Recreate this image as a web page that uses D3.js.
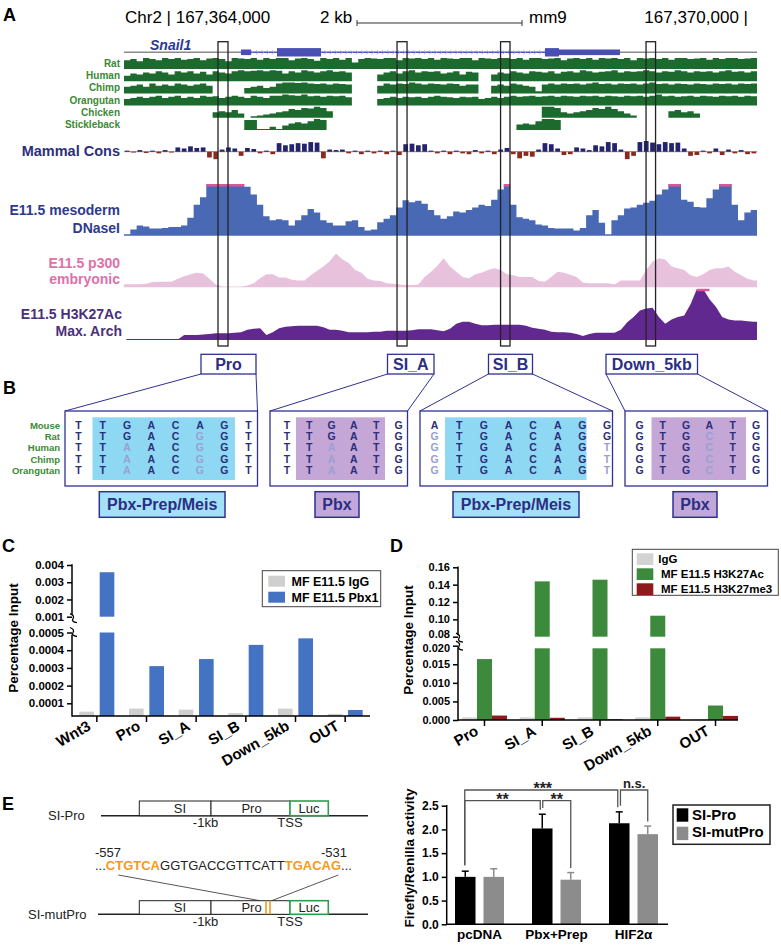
<!DOCTYPE html>
<html><head><meta charset="utf-8">
<script src="https://cdn.jsdelivr.net/npm/d3@7"></script>
<style>
body{margin:0;background:#fff;}
svg{display:block;font-family:"Liberation Sans",Arial,Helvetica,sans-serif;}
</style></head><body>
<svg id="fig" width="781" height="946"></svg>
<script>
// ================= DATA =================
// Panel A : genome browser region (mm9, chr2)
const regionStart = 167363490, regionEnd = 167370130;
const binSize = 66.4; // 100 bins
const geneName = "Snail1";
const geneStart = 167364717, geneEnd = 167368693;
const geneBlocks = [
  {start:167364717, end:167364822, kind:"utr"},
  {start:167365095, end:167365557, kind:"cds"},
  {start:167367906, end:167368053, kind:"cds"},
  {start:167368053, end:167368693, kind:"utr"}
];
const siteNames = ["Pro","SI_A","SI_B","Down_5kb"];
const siteStarts = [167364476, 167366354, 167367440, 167368966];
const siteEnds   = [167364581, 167366459, 167367539, 167369066];

const speciesNames = ["Rat","Human","Chimp","Orangutan","Chicken","Stickleback"];
const consRat = [0.8,0.9,0.7,1,0.9,0.8,1,0.9,1,0.85, 0.9,1,0.8,0.95,1,0.9,0.7,1,0.95,0.9, 1,0.85,1,0.9,1,1,0.8,0.95,1,0.9, 0.75,1,0.9,1,0.85,1,0.6,0.9,1,0.95, 0.9,1,1,0.8,1,0.95,1,0.9,1,0.85, 1,0.95,0.9,1,1,0.8,1,0.95,0.9,1, 1,0.9,1,0.85,1,1,0.9,0.95,1,0.8, 0.95,1,0.9,1,0.85,1,0.95,1,0.9,1, 0.8,1,0.95,1,0.9,1,0.85,1,1,0.9, 0.95,1,0.85,1,0.9,1,1,0.9,0.95,1];
const consHuman = [0.5,0.7,0.6,0.8,0.7,0.9,0.8,0.6,0.9,0.8, 0.9,0.7,0.85,0.6,0.9,0.8,0.7,0.9,1,0.9, 0.95,1,0.9,1,0.95,0.7,0.9,0.8,1,0.9, 0.8,0.9,1,0.85,0.9,0.8,0,0,0,0, 0.6,0.8,0.9,0.7,0.9,1,0.8,0.9,0.85,0.9, 0.7,0.8,0.9,0.6,0.85,0.8,0,0,0.6,0.8, 0.7,0.9,0.8,0.7,0.9,0.85,0.8,0.9,0.7,0.85, 0.9,0.8,1,0.9,0.8,0.85,0.9,1,0.8,0.9, 0.85,0.9,1,0.9,0.8,0.9,0.85,1,0.9,0.8, 0.9,0.85,0.9,0.8,0.9,1,0.85,0.9,0.8,0.9];
const consChimp = [0.6,0.7,0.8,0.6,0.9,0.7,0.8,0.7,0.9,0.8, 0.7,0.8,0.9,0.7,0,0,0,0,0,0.5, 0.6,0.7,0.5,0.6,0.9,1,1,0.95,1,0.9, 0.85,0.9,0.8,0.9,0.85,0.8,0,0,0,0, 0.7,0.9,0.8,0.9,0.85,1,0.9,0.8,0.9,0.85, 0.8,0.9,0.85,0.7,0.8,0.8,0,0,0.7,0.8, 0.7,0.9,0.8,0.7,0.6,0.2,0.8,0.9,0.8,0.9, 0.85,0.9,0.8,0.9,1,0.85,0.9,0.8,0.9,0.85, 0.9,0.8,0.9,1,0.85,0.9,0.8,0.9,0.85,0.8, 0.9,0.85,0.8,0.9,0.85,0.9,0.8,0.9,0.85,0.9];
const consOrangutan = [0.6,0.7,0.8,0.7,0.8,0.9,0.7,0.8,0.9,0.7, 0.8,0.7,0.9,0.8,0.85,0.7,0.8,0.9,0.8,0.7, 0.9,0.8,0.7,0.9,0.9,1,0.95,0.9,1,0.85, 0.9,0.8,0.9,0.85,0.9,0.75,0,0,0,0, 0.6,0.7,0.8,0.7,0.8,0.75,0.8,0.7,0.8,0.9, 0.8,0.75,0.7,0.8,0.75,0.8,0.6,0.7,0.8,0.7, 0.8,0.9,0.8,0.85,0.9,0.8,0.85,0.9,0.8,0.9, 0.85,0.8,0.9,0.85,0.9,0.8,0.9,0.85,0.8,0.9, 0.85,0.9,0.8,0.9,1,0.85,0.9,0.8,0.85,0.9, 0.8,0.9,0.85,0.8,0.9,0.85,0.9,0.8,0.9,0.85];
const consChicken = [0,0,0,0,0,0,0,0,0,0, 0,0,0,0,0.5,0.6,0.5,0.7,0.4,0, 0.15,0.2,0.3,0.4,0.5,0.6,0.8,0.7,0.9,0.85, 1,0.9,0.6,0,0,0,0,0,0,0, 0,0,0,0,0,0,0,0,0,0, 0,0,0,0,0,0,0,0,0,0, 0,0,0,0,0,0,1,1,0.9,0.5, 0.4,0.5,0.6,0.7,0.9,0.8,1,0.8,0.6,0.4, 0.2,0,0,0,0,0,0.6,0.7,0.5,0.6, 0.4,0,0,0,0,0,0,0,0,0];
const consStickleback = [0,0,0,0,0,0,0,0,0,0, 0,0,0,0,0,0,0,0,0,0.9, 0.9,0.1,0.1,0.3,0.1,0.4,0.6,0.7,0.6,0.8, 1,0.9,0,0,0,0,0,0,0,0, 0,0,0,0,0,0,0,0,0,0, 0,0,0,0,0,0,0,0,0,0, 0,0,0.5,0.6,0.5,0.8,1,1,0.9,0, 0,0,0,0,0,0,0,0,0,0, 0,0,0,0,0,0,0,0,0,0, 0,0,0,0,0,0,0,0,0,0];
const mammalCons = [0.1,-0.1,0.15,-0.15,0.1,-0.2,0.15,-0.1,0.4,0.3, 0.5,0.35,0.4,-0.7,-0.9,0.2,0.4,0.3,-0.5,0.35, 0.25,-0.2,0.1,-0.3,0.8,0.6,0.7,0.8,0.75,0.9, 0.85,-0.8,0.2,0.15,0.2,-0.2,0.1,-0.3,0.1,-0.2, 0.1,-0.3,0.1,-0.4,0.7,0.75,0.6,0.7,0.1,-0.2, 0.1,-0.3,0.1,-0.2,-0.3,0.15,-0.2,0.1,-0.3,0.2, 0.35,-0.3,-0.8,-0.5,-0.6,0.2,0.8,0.7,0.3,-0.4, -0.3,0.4,0.3,0.15,0.6,0.5,0.9,0.8,0.2,-0.9, -0.5,0.9,1,0.85,0.7,0.9,0.8,0.85,0.3,-0.5, -0.4,0.1,-0.2,0.3,-0.4,0.2,-0.2,0.15,-0.3,-0.2];
const dnase = [0.03,0.12,0.2,0.18,0.14,0.14,0.15,0.17,0.17,0.2, 0.35,0.6,0.75,1,1,1,1,1,1,0.95, 0.8,0.6,0.38,0.3,0.32,0.3,0.2,0.3,0.4,0.52, 0.45,0.3,0.25,0.2,0.2,0.28,0.3,0.17,0.1,0.12, 0.26,0.33,0.4,0.55,0.69,0.65,0.68,0.62,0.5,0.4, 0.33,0.38,0.47,0.45,0.5,0.55,0.6,0.58,0.7,0.9, 1,0.6,0.36,0.33,0.3,0.22,0.2,0.15,0.14,0.14, 0.14,0.1,0.15,0.4,0.5,0.25,0.03,0.3,0.4,0.53, 0.55,0.6,0.64,0.68,0.8,0.9,1,1,0.7,0.66, 0.56,0.55,0.73,0.9,1,1,0.6,0.3,0.45,0.5];
const p300 = [0.09,0.09,0.09,0.1,0.15,0.16,0.16,0.16,0.25,0.32, 0.38,0.42,0.4,0.25,0.08,0.02,0.02,0.02,0.02,0.05, 0.12,0.26,0.38,0.38,0.28,0.28,0.22,0.2,0.2,0.35, 0.48,0.6,0.75,0.98,0.8,0.7,0.5,0.42,0.25,0.2, 0.18,0.12,0.1,0.08,0.07,0.07,0.08,0.3,0.45,0.62, 0.84,0.6,0.45,0.3,0.26,0.38,0.42,0.5,0.55,0.5, 0.38,0.35,0.3,0.3,0.3,0.18,0.16,0.3,0.45,0.42, 0.36,0.3,0.14,0.12,0.12,0.12,0.12,0.08,0.2,0.2, 0.2,0.2,0.5,0.74,0.84,0.8,0.6,0.55,0.5,0.35, 0.3,0.38,0.5,0.55,0.55,0.6,0.45,0.35,0.25,0.2];
const h3k27ac = [0.01,0.01,0.01,0.01,0.01,0.01,0.01,0.01,0.01,0.1, 0.1,0.1,0.11,0.12,0.13,0.13,0.13,0.14,0.15,0.2, 0.22,0.23,0.1,0.15,0.23,0.26,0.27,0.28,0.28,0.28, 0.28,0.25,0.2,0.2,0.18,0.15,0.15,0.15,0.15,0.16, 0.16,0.18,0.18,0.18,0.18,0.19,0.21,0.21,0.21,0.19, 0.17,0.22,0.32,0.36,0.36,0.32,0.29,0.29,0.3,0.3, 0.3,0.3,0.3,0.28,0.24,0.22,0.2,0.16,0.15,0.15, 0.14,0.12,0.08,0.12,0.14,0.14,0.14,0.14,0.2,0.35, 0.45,0.58,0.62,0.63,0.45,0.32,0.4,0.45,0.48,0.7, 1,1,0.8,0.65,0.45,0.4,0.38,0.38,0.37,0.36];

// Panel B : motif alignments
const alignSpecies = ["Mouse","Rat","Human","Chimp","Orangutan"];
const alignPro  = ["TTGACAGT","TTGACGGT","TTAACGGT","TTAACGGT","TTAACGGT"];
const alignSIA  = ["TTGATG","TTGATG","TTAATG","TTAATG","TTAATG"];
const alignSIB  = ["ATGACAGG","GTGACAGG","GTGACAGT","GTGACAGT","GTGACAGT"];
const alignDown = ["GTGATG","GTGCTG","GTGCTG","GTGCTG","GTGCTG"];
const motifNames = ["Pbx-Prep/Meis","Pbx","Pbx-Prep/Meis","Pbx"];
const motifKinds = ["meis","pbx","meis","pbx"];

// Panel C : ChIP Pbx1
const chipCcats = ["Wnt3","Pro","SI_A","SI_B","Down_5kb","OUT"];
const chipCseries = ["MF E11.5 IgG","MF E11.5 Pbx1"];
const chipCigg  = [0.000053,0.00007,0.000064,0.000045,0.00007,0.00004];
const chipCpbx1 = [0.00358,0.00031,0.00035,0.00043,0.000467,0.000062];
const chipCticksLow = [0.0001,0.0002,0.0003,0.0004,0.0005];
const chipCticksUp  = [0.001,0.002,0.003,0.004];

// Panel D : ChIP histone marks
const chipDcats = ["Pro","SI_A","SI_B","Down_5kb","OUT"];
const chipDseries = ["IgG","MF E11.5 H3K27Ac","MF E11.5 H3K27me3"];
const chipDigg   = [0.0007,0.0007,0.0007,0.0007,0.0002];
const chipDk27ac = [0.0164,0.1438,0.1457,0.1042,0.0039];
const chipDk27me3= [0.0012,0.0006,0.0002,0.0009,0.0011];
const chipDticksLow = [0,0.005,0.010,0.015,0.020];
const chipDticksUp  = [0.08,0.10,0.12,0.14,0.16];

// Panel E : luciferase
const lucCats = ["pcDNA","Pbx+Prep","HIF2α"];
const lucSeries = ["SI-Pro","SI-mutPro"];
const lucSIPro = [1.0,2.02,2.13];
const lucSIProErr = [0.12,0.3,0.24];
const lucSImut = [1.0,0.94,1.9];
const lucSImutErr = [0.17,0.15,0.17];
const lucTicks = [0,0.5,1.0,1.5,2.0,2.5];
const sigLabels = ["***","**","**","n.s."];

// ================= DRAW =================
const svg = d3.select("#fig");
svg.append("rect").attr("width",781).attr("height",946).attr("fill","#fff");
const NARROW = '"Liberation Sans Narrow","Arial Narrow","Liberation Sans",Arial,sans-serif';
function txt(g,x,y,s,o={}){
  const t=g.append("text").attr("x",x).attr("y",y).text(s)
    .attr("font-size",o.size||12).attr("font-weight",o.weight||"normal")
    .attr("fill",o.fill||"#000").attr("text-anchor",o.anchor||"start");
  if(o.family) t.attr("font-family",o.family);
  if(o.style) t.attr("font-style",o.style);
  return t;
}
function line(g,x1,y1,x2,y2,c,w){return g.append("line").attr("x1",x1).attr("y1",y1).attr("x2",x2).attr("y2",y2).attr("stroke",c||"#000").attr("stroke-width",w||1);}

// ---------- Panel A ----------
const A = svg.append("g");
const gx = d3.scaleLinear().domain([regionStart,regionEnd]).range([124,757]);
const binX = i => gx(regionStart + i*binSize);
txt(A,3,21,"A",{size:18,weight:"bold"});
txt(A,125,23,"Chr2 | 167,364,000",{size:17});
txt(A,320,23,"2 kb",{size:17});
line(A,357,23,522,23,"#333",1); line(A,357,20,357,26,"#333",1); line(A,522,20,522,26,"#333",1);
txt(A,529,23,"mm9",{size:17});
txt(A,748,23,"167,370,000 |",{size:17,anchor:"end"});

// gene
const geneY = 52.3;
line(A,gx(regionStart),geneY,gx(regionEnd),geneY,"#8a8a8a",1.5);
line(A,gx(geneStart),geneY,gx(geneEnd),geneY,"#5155b8",1.2);
for(let p=geneStart+120;p<geneEnd-40;p+=55){
  const x=gx(p);
  A.append("path").attr("d",`M${x-1.5},${geneY-2} L${x+0.8},${geneY} L${x-1.5},${geneY+2}`).attr("fill","none").attr("stroke","#a2a6e6").attr("stroke-width",0.8);
}
geneBlocks.forEach(b=>{
  const h = b.kind==="cds"?8.4:5.6;
  A.append("rect").attr("x",gx(b.start)).attr("width",gx(b.end)-gx(b.start)).attr("y",geneY-h/2).attr("height",h).attr("fill","#4a4fb4");
});
txt(A,150,50,geneName,{size:14,weight:"bold",style:"italic",fill:"#2c3a96"});

// species conservation
const speciesCons=[consRat,consHuman,consChimp,consOrangutan,consChicken,consStickleback];
speciesCons.forEach((vals,k)=>{
  const base=69+12.2*k;
  const y=d3.scaleLinear().domain([0,1]).range([base,base-11]);
  const pts=vals.map((v,i)=>[i,v]).concat([[vals.length,vals[vals.length-1]]]);
  A.append("path").datum(pts).attr("d",d3.area().x(d=>binX(d[0])).y0(base).y1(d=>y(d[1])).curve(d3.curveStepAfter)).attr("fill","#1d6a2e");
  txt(A,120,base-2,speciesNames[k],{size:10,weight:"bold",fill:"#3a8a35",anchor:"end",family:NARROW});
});

// mammal cons
const mcY=d3.scaleLinear().domain([-1,0,1]).range([160,151.7,141]);
line(A,gx(regionStart),151.7,gx(regionEnd),151.7,"#8a6a6a",0.8);
mammalCons.forEach((v,i)=>{
  const x0=binX(i),x1=binX(i+1);
  A.append("rect").attr("x",x0+0.8).attr("width",x1-x0-1.6)
    .attr("y",v>0?mcY(v):mcY(0)).attr("height",Math.abs(mcY(v)-mcY(0)))
    .attr("fill",v>0?"#23236e":"#8a2a1e");
});
txt(A,120,156,"Mammal Cons",{size:14.5,weight:"bold",fill:"#2d2f7b",anchor:"end"});

// DNaseI
const dnY=d3.scaleLinear().domain([0,1]).range([235.7,184.3]);
const dnPts=dnase.map((v,i)=>[i,v]).concat([[dnase.length,dnase[dnase.length-1]]]);
A.append("path").datum(dnPts).attr("d",d3.area().x(d=>binX(d[0])).y0(dnY(0)).y1(d=>dnY(d[1])).curve(d3.curveStepAfter)).attr("fill","#4a69b4");
dnase.forEach((v,i)=>{ if(v>=1) line(A,binX(i),dnY(1)+1,binX(i+1),dnY(1)+1,"#e0559a",2.5); });
txt(A,120,215,"E11.5 mesoderm",{size:14,weight:"bold",fill:"#2e3a8c",anchor:"end"});
txt(A,120,233,"DNaseI",{size:14,weight:"bold",fill:"#2e3a8c",anchor:"end"});

// p300
const pY=d3.scaleLinear().domain([0,1]).range([287.3,252.7]);
const pPts=p300.map((v,i)=>[i+0.5,v]); pPts.unshift([0,p300[0]]); pPts.push([p300.length,p300[p300.length-1]]);
A.append("path").datum(pPts).attr("d",d3.area().x(d=>binX(d[0])).y0(pY(0)).y1(d=>pY(d[1]))).attr("fill","#e8c2dd");
txt(A,120,268,"E11.5 p300",{size:14,weight:"bold",fill:"#e070a8",anchor:"end"});
txt(A,120,284,"embryonic",{size:14,weight:"bold",fill:"#e070a8",anchor:"end"});

// H3K27Ac
const kY=d3.scaleLinear().domain([0,1]).range([340,289]);
const kPts=h3k27ac.map((v,i)=>[i+0.5,v]); kPts.unshift([0.4,h3k27ac[0]]); kPts.push([h3k27ac.length,h3k27ac[h3k27ac.length-1]]);
A.append("path").datum(kPts).attr("d",d3.area().x(d=>binX(d[0])).y0(kY(0)).y1(d=>kY(d[1]))).attr("fill","#61288f");
line(A,binX(0.4),kY(0)-0.5,binX(100),kY(0)-0.5,"#61288f",1.2);
h3k27ac.forEach((v,i)=>{ if(v>=1) line(A,binX(i+0.5),kY(1)+1,binX(i+1.5),kY(1)+1,"#e0559a",2.5); });
txt(A,122,319,"E11.5 H3K27Ac",{size:14,weight:"bold",fill:"#4a2f7a",anchor:"end"});
txt(A,122,336,"Max. Arch",{size:14,weight:"bold",fill:"#4a2f7a",anchor:"end"});

// highlight boxes
siteNames.forEach((s,i)=>{
  A.append("rect").attr("x",gx(siteStarts[i])).attr("width",gx(siteEnds[i])-gx(siteStarts[i]))
   .attr("y",41.7).attr("height",346-41.7).attr("fill","none").attr("stroke","#222").attr("stroke-width",1.3);
});

// ---------- Panel B ----------
const B = svg.append("g");
const NAVY="#2e3192";
txt(B,3,394,"B",{size:18,weight:"bold"});
const labelBoxes=[[201,256],[387.5,434],[488.5,532.5],[606,697.5]];
const alignBoxes=[[65,257.5],[270,407.5],[420,612.5],[625,767.5]];
const colRanges=[[75,245],[283.5,395],[431,603.5],[636,752.5]];
const hlRanges=[[92.5,235],[296,385],[445,586.5],[651.5,746]];
const motifLabelBoxes=[[99.3,225],[315,359],[453,579],[673,717]];
const aligns=[alignPro,alignSIA,alignSIB,alignDown];
const fillFor={meis:"#8fd8f4",pbx:"#c4a7d6"};
const labelFill={meis:"#a3e1f8",pbx:"#c2a8d8"};
siteNames.forEach((s,i)=>{
  const [lx0,lx1]=labelBoxes[i],[bx0,bx1]=alignBoxes[i];
  line(B,lx0,374,bx0,411,NAVY,1); line(B,lx1,374,bx1,411,NAVY,1);
  B.append("rect").attr("x",lx0).attr("y",354.3).attr("width",lx1-lx0).attr("height",19.7).attr("fill","#fff").attr("stroke",NAVY).attr("stroke-width",1.3);
  txt(B,(lx0+lx1)/2,370,s,{size:16,weight:"bold",fill:"#2b2e83",anchor:"middle"});
  B.append("rect").attr("x",bx0).attr("y",411).attr("width",bx1-bx0).attr("height",75).attr("fill","#fff").attr("stroke",NAVY).attr("stroke-width",1.3);
  const [h0,h1]=hlRanges[i];
  B.append("rect").attr("x",h0).attr("y",417.3).attr("width",h1-h0).attr("height",62.7).attr("fill",fillFor[motifKinds[i]]);
  const seqs=aligns[i];
  const cx=d3.scalePoint().domain(d3.range(seqs[0].length)).range([colRanges[i][0]+3.5,colRanges[i][1]+3.5]);
  seqs.forEach((seq,r)=>{
    seq.split("").forEach((ch,c)=>{
      const diff = r>0 && ch!==seqs[0][c];
      txt(B,cx(c),428.5+11.45*r,ch,{size:10.5,weight:"bold",fill:diff?"#9a9fd4":"#2b2e7a",anchor:"middle",family:NARROW});
    });
  });
  const [m0,m1]=motifLabelBoxes[i];
  B.append("rect").attr("x",m0).attr("y",491.7).attr("width",m1-m0).attr("height",25.6).attr("fill",labelFill[motifKinds[i]]).attr("stroke",NAVY).attr("stroke-width",1.5);
  txt(B,(m0+m1)/2,510,motifNames[i],{size:16,weight:"bold",fill:"#2b2e83",anchor:"middle"});
});
alignSpecies.forEach((s,r)=>txt(B,60,428.5+11.45*r,s,{size:9.5,weight:"bold",fill:"#3a8a35",anchor:"end",family:NARROW}));

// ---------- helpers for charts ----------
function styleAxis(g,size){
  g.selectAll("line").attr("stroke","#000").attr("stroke-width",1.5);
  g.selectAll("text").attr("font-size",size).attr("font-weight","bold").attr("fill","#000").attr("font-family",'"Liberation Sans",Arial,sans-serif');
}
function breakMark(g,x,y){
  g.append("path").attr("d",`M${x-2},${y-4} Q${x+3},${y-2} ${x+1},${y+1} T${x+5},${y+5}`).attr("fill","none").attr("stroke","#000").attr("stroke-width",1.3);
}

// ---------- Panel C ----------
const C = svg.append("g");
txt(C,2,552,"C",{size:18,weight:"bold"});
const cAxisX=72, cBase=716;
const cUp=d3.scaleLinear().domain([0.001,0.004]).range([616.7,565]);
const cLo=d3.scaleLinear().domain([0,0.0005]).range([721,632.5]);
const cX=d3.scaleBand().domain(chipCcats).range([72,370]);
const cSub=d3.scaleBand().domain(chipCseries).range([-17.5,17.5]).paddingInner(0.28);
const cColors=["#cfcfcf","#4573c3"];
chipCcats.forEach((cat,i)=>{
  const cx=cX(cat)+cX.bandwidth()/2;
  [chipCigg[i],chipCpbx1[i]].forEach((v,s)=>{
    const x=cx+cSub(chipCseries[s]);
    const loTop=cLo(Math.min(v,0.0005));
    C.append("rect").attr("x",x).attr("width",cSub.bandwidth()).attr("y",loTop).attr("height",cBase-loTop).attr("fill",cColors[s]);
    if(v>0.001){
      C.append("rect").attr("x",x).attr("width",cSub.bandwidth()).attr("y",cUp(v)).attr("height",cUp(0.001)-cUp(v)).attr("fill",cColors[s]);
    }
  });
});
const gcu=C.append("g").attr("transform",`translate(${cAxisX},0)`).call(d3.axisLeft(cUp).tickValues(chipCticksUp).tickFormat(d3.format(".3f")).tickSize(5));
gcu.select(".domain").remove(); styleAxis(gcu,11.5);
const gcl=C.append("g").attr("transform",`translate(${cAxisX},0)`).call(d3.axisLeft(cLo).tickValues(chipCticksLow).tickFormat(d3.format(".4f")).tickSize(5));
gcl.select(".domain").remove(); styleAxis(gcl,11.5);
line(C,cAxisX,cUp(0.004)-0.7,cAxisX,cUp(0.001)-2,"#000",1.5);
line(C,cAxisX,cLo(0.0005)+2,cAxisX,cBase+0.7,"#000",1.5);
breakMark(C,cAxisX,cUp(0.001)+1); breakMark(C,cAxisX,cLo(0.0005)-1);
const gcx=C.append("g").attr("transform",`translate(0,${cBase})`).call(d3.axisBottom(cX).tickSize(6));
gcx.select(".domain").remove(); styleAxis(gcx,15);
gcx.selectAll("text").attr("x",0).attr("y",0).attr("dy",0).attr("text-anchor","end").attr("transform","translate(-5,13) rotate(-30)");
line(C,cAxisX,cBase,370,cBase,"#000",1.5);
C.append("text").attr("transform","translate(18,638) rotate(-90)").attr("text-anchor","middle").attr("font-size",13.5).attr("font-weight","bold").text("Percentage Input");
// legend C
C.append("rect").attr("x",262.3).attr("y",570.7).attr("width",118.4).attr("height",36).attr("fill","#fff").attr("stroke","#444").attr("stroke-width",1);
chipCseries.forEach((s,k)=>{
  C.append("rect").attr("x",268.3).attr("y",575.7+16*k).attr("width",16.7).attr("height",11).attr("fill",cColors[k]);
  txt(C,291.5,585.5+16*k,s,{size:12.5,weight:"bold"});
});

// ---------- Panel D ----------
const D = svg.append("g");
txt(D,390,552,"D",{size:18,weight:"bold"});
const dAxisX=458, dBase=720;
const dUp=d3.scaleLinear().domain([0.08,0.16]).range([636.7,567.3]);
const dLo=d3.scaleLinear().domain([0,0.02]).range([720,645.7]);
const dX=d3.scaleBand().domain(chipDcats).range([455.6,744.4]);
const dSub=d3.scaleBand().domain(chipDseries).range([-22.5,22.5]);
const dColors=["#d3d3d3","#3e8a3c","#8e1b1b"];
chipDcats.forEach((cat,i)=>{
  const cx=dX(cat)+dX.bandwidth()/2;
  [chipDigg[i],chipDk27ac[i],chipDk27me3[i]].forEach((v,s)=>{
    const x=cx+dSub(chipDseries[s]);
    const loTop=dLo(Math.min(v,0.0193));
    D.append("rect").attr("x",x).attr("width",dSub.bandwidth()).attr("y",loTop).attr("height",dBase-loTop).attr("fill",dColors[s]);
    if(v>0.08){
      D.append("rect").attr("x",x).attr("width",dSub.bandwidth()).attr("y",dUp(v)).attr("height",dUp(0.08)-dUp(v)).attr("fill",dColors[s]);
    }
  });
});
const gdu=D.append("g").attr("transform",`translate(${dAxisX},0)`).call(d3.axisLeft(dUp).tickValues(chipDticksUp).tickFormat(d3.format(".2f")).tickSize(5));
gdu.select(".domain").remove(); styleAxis(gdu,11);
gdu.selectAll(".tick text").filter(d=>d===0.08).attr("dy","0.1em");
const gdl=D.append("g").attr("transform",`translate(${dAxisX},0)`).call(d3.axisLeft(dLo).tickValues(chipDticksLow).tickFormat(d3.format(".3f")).tickSize(5));
gdl.select(".domain").remove(); styleAxis(gdl,11);
gdl.selectAll(".tick text").filter(d=>d===0.02).attr("dy","0.55em");
line(D,dAxisX,dUp(0.16)-0.7,dAxisX,dUp(0.08)-1.5,"#000",1.5);
line(D,dAxisX,dLo(0.02)+1.5,dAxisX,dBase+0.7,"#000",1.5);
breakMark(D,dAxisX,dUp(0.08)+0.5); breakMark(D,dAxisX,dLo(0.02)-0.5);
const gdx=D.append("g").attr("transform",`translate(0,${dBase})`).call(d3.axisBottom(dX).tickSize(6));
gdx.select(".domain").remove(); styleAxis(gdx,15);
gdx.selectAll("text").attr("x",0).attr("y",0).attr("dy",0).attr("text-anchor","end").attr("transform","translate(-5,14) rotate(-30)");
line(D,dAxisX,dBase,738,dBase,"#000",1.5);
D.append("text").attr("transform","translate(413,640) rotate(-90)").attr("text-anchor","middle").attr("font-size",13.5).attr("font-weight","bold").text("Percentage Input");
D.append("rect").attr("x",632.3).attr("y",549.3).attr("width",146).attr("height",46).attr("fill","#fff").attr("stroke","#444").attr("stroke-width",1);
chipDseries.forEach((s,k)=>{
  D.append("rect").attr("x",636.7).attr("y",553.3+15*k).attr("width",16.6).attr("height",11.7).attr("fill",dColors[k]);
  txt(D,k===0?658.3:661,563.3+15*k,s,{size:11.5,weight:"bold"});
});

// ---------- Panel E ----------
const E = svg.append("g");
txt(E,2,810,"E",{size:18,weight:"bold"});
const ORANGE="#f39a1e", LUCG="#2e9e4e";
function construct(yTop,yLine,lineX0){
  line(E,lineX0,yLine,368,yLine,"#222",1.5);
  [[139.3,211,"#222"],[211,290,"#222"],[290,328.3,LUCG]].forEach(([x0,x1,c])=>{
    E.append("rect").attr("x",x0).attr("y",yTop).attr("width",x1-x0).attr("height",yLine-yTop).attr("fill","#fff").attr("stroke",c).attr("stroke-width",c===LUCG?1.6:1);
  });
  txt(E,180,yLine-2.5,"SI",{size:13,anchor:"middle",fill:"#222"});
  txt(E,251.5,yLine-2.5,"Pro",{size:13,anchor:"middle",fill:"#222"});
  txt(E,309,yLine-2.5,"Luc",{size:13,anchor:"middle",fill:"#222"});
  txt(E,205.5,yLine+11.5,"-1kb",{size:13,anchor:"middle",fill:"#222"});
  txt(E,290,yLine+11.5,"TSS",{size:13,anchor:"middle",fill:"#222"});
}
txt(E,48,820,"SI-Pro",{size:13,fill:"#222"});
construct(801,815.7,101);
txt(E,95,856.5,"-557",{size:13,fill:"#222"});
txt(E,347,856.5,"-531",{size:13,fill:"#222",anchor:"end"});
const seqT=E.append("text").attr("x",95).attr("y",870).attr("font-size",13).attr("fill","#222");
[["...","#222","normal"],["CTGTCA",ORANGE,"bold"],["GGTGACCGTTCATT","#222","normal"],["TGACAG",ORANGE,"bold"],["...","#222","normal"]]
 .forEach(([t,c,w])=>seqT.append("tspan").attr("fill",c).attr("font-weight",w).text(t));
line(E,118.3,875,260,900.7,"#444",0.9);
line(E,338.3,875,271.7,900.7,"#444",0.9);
txt(E,28,919,"SI-mutPro",{size:13,fill:"#222"});
construct(900.7,914.3,98);
line(E,266,900.7,266,914.3,ORANGE,1.6); line(E,270,900.7,270,914.3,ORANGE,1.6);

// luciferase chart
const eAxisX=446.7, eBase=924.3;
const eY=d3.scaleLinear().domain([0,2.5]).range([924.3,805.7]);
const eX=d3.scaleBand().domain(lucCats).range([441,672]);
const eSub=d3.scaleBand().domain(lucSeries).range([-24.5,24.5]).paddingInner(0.28);
const eColors=["#000","#8c8c8c"];
const eVals=[lucSIPro,lucSImut], eErr=[lucSIProErr,lucSImutErr];
const barCx=(ci,s)=>eX(lucCats[ci])+eX.bandwidth()/2+eSub(lucSeries[s])+eSub.bandwidth()/2;
lucCats.forEach((cat,i)=>{
  [0,1].forEach(s=>{
    const v=eVals[s][i], e=eErr[s][i], cx=barCx(i,s);
    line(E,cx,eY(v),cx,eY(v+e),eColors[s],1.5);
    line(E,cx-3.5,eY(v+e),cx+3.5,eY(v+e),eColors[s],1.5);
    E.append("rect").attr("x",cx-eSub.bandwidth()/2).attr("width",eSub.bandwidth()).attr("y",eY(v)).attr("height",eBase-eY(v)).attr("fill",eColors[s]);
  });
});
const gey=E.append("g").attr("transform",`translate(${eAxisX},0)`).call(d3.axisLeft(eY).tickValues(lucTicks).tickFormat(d3.format(".1f")).tickSize(5));
gey.select(".domain").remove(); styleAxis(gey,12);
line(E,eAxisX,eY(2.5)-0.7,eAxisX,eBase+0.7,"#000",1.5);
const gex=E.append("g").attr("transform",`translate(0,${eBase})`).call(d3.axisBottom(eX).tickSize(0));
gex.select(".domain").remove(); styleAxis(gex,13.5);
gex.selectAll("text").attr("y",5);
line(E,eAxisX,eBase,668,eBase,"#000",1.5);
E.append("text").attr("transform","translate(414,858) rotate(-90)").attr("text-anchor","middle").attr("font-size",13.5).attr("font-weight","bold").text("Firefly/Renilla activity");
// significance brackets: [catA,seriesA,dxA,catB,seriesB,dxB,levelY]
const brackets=[[0,0,-0.5,2,0,-1.5,790],[0,0,-0.5,1,0,-2,800.7],[1,0,0.5,1,1,0,800.7],[2,0,1.2,2,1,0,790]];
brackets.forEach(([ca,sa,da,cb,sb,db,ly],k)=>{
  const xa=barCx(ca,sa)+da, xb=barCx(cb,sb)+db;
  const ya=(k===2)?808:eY(eVals[sa][ca]+eErr[sa][ca])-6;
  const yb=eY(eVals[sb][cb]+eErr[sb][cb])-4.5;
  E.append("path").attr("d",`M${xa},${ya} V${ly} H${xb} V${yb}`).attr("fill","none").attr("stroke","#555").attr("stroke-width",1.3);
  const isNs=sigLabels[k]==="n.s.";
  txt(E,(xa+xb)/2+(k===0?1.5:0),isNs?788:(ly+4),sigLabels[k],{size:isNs?13:16,weight:"bold",anchor:"middle",fill:"#222"});
});
// legend E
E.append("rect").attr("x",673).attr("y",805).attr("width",97).attr("height",39.3).attr("fill","#fff").attr("stroke","#222").attr("stroke-width",1.5);
lucSeries.forEach((s,k)=>{
  E.append("rect").attr("x",676.7).attr("y",808.3+18.4*k).attr("width",11.6).attr("height",13.4).attr("fill",eColors[k]);
  txt(E,692,820+16.7*k,s,{size:15,weight:"bold"});
});
</script>
</body></html>
